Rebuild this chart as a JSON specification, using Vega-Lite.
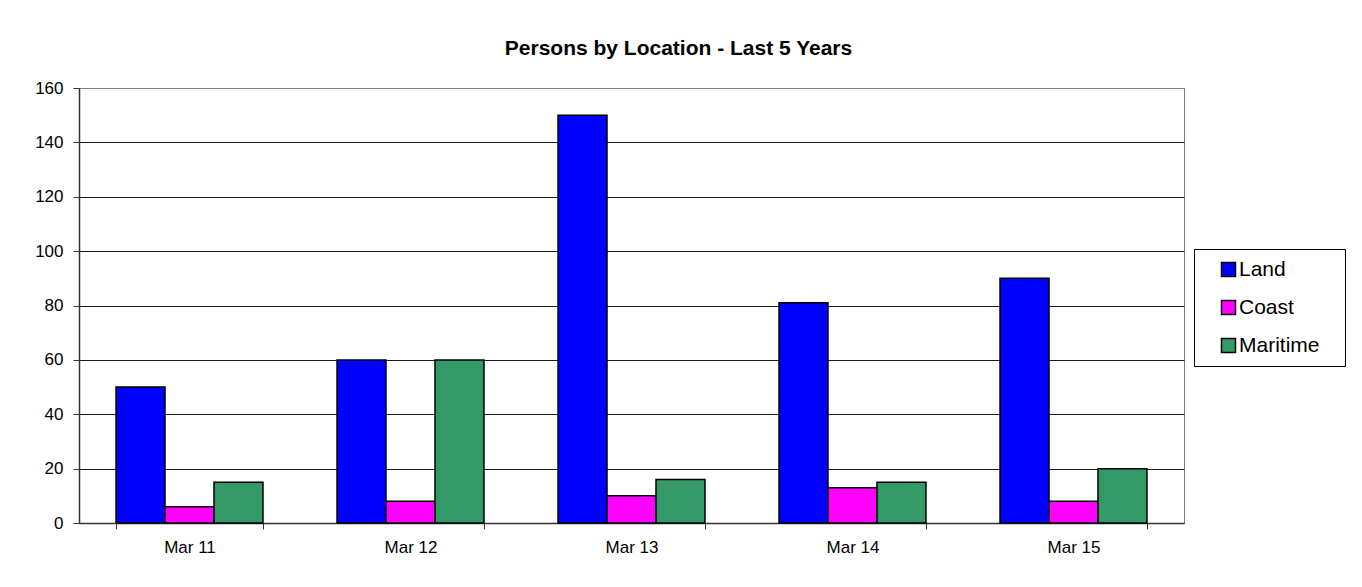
{
  "$schema": "https://vega.github.io/schema/vega-lite/v6.json",
  "width": 1105,
  "height": 435,
  "autosize": {"type": "none"},
  "padding": {"left": 79, "top": 88, "right": 178, "bottom": 64},
  "background": "#ffffff",
  "title": {
    "text": "Persons by Location - Last 5 Years",
    "font": "Liberation Sans",
    "fontSize": 21,
    "fontWeight": "bold",
    "color": "#000000",
    "anchor": "middle",
    "dx": 47,
    "offset": 20
  },
  "data": {
    "values": [
      {"month": "Mar 11", "location": "Land", "persons": 50},
      {"month": "Mar 11", "location": "Coast", "persons": 6},
      {"month": "Mar 11", "location": "Maritime", "persons": 15},
      {"month": "Mar 12", "location": "Land", "persons": 60},
      {"month": "Mar 12", "location": "Coast", "persons": 8},
      {"month": "Mar 12", "location": "Maritime", "persons": 60},
      {"month": "Mar 13", "location": "Land", "persons": 150},
      {"month": "Mar 13", "location": "Coast", "persons": 10},
      {"month": "Mar 13", "location": "Maritime", "persons": 16},
      {"month": "Mar 14", "location": "Land", "persons": 81},
      {"month": "Mar 14", "location": "Coast", "persons": 13},
      {"month": "Mar 14", "location": "Maritime", "persons": 15},
      {"month": "Mar 15", "location": "Land", "persons": 90},
      {"month": "Mar 15", "location": "Coast", "persons": 8},
      {"month": "Mar 15", "location": "Maritime", "persons": 20}
    ]
  },
  "mark": {"type": "bar", "stroke": "#000000", "strokeWidth": 1.5},
  "encoding": {
    "x": {
      "field": "month",
      "type": "nominal",
      "scale": {"paddingInner": 0.335, "paddingOuter": 0.1675},
      "axis": {
        "title": null,
        "labelAngle": 0,
        "tickBand": "extent",
        "grid": false,
        "labelFont": "Liberation Sans",
        "labelFontSize": 17,
        "labelColor": "#000000",
        "labelPadding": 10,
        "tickSize": 6,
        "tickColor": "#333333",
        "domainColor": "#333333",
        "domainWidth": 1.5
      }
    },
    "xOffset": {
      "field": "location",
      "type": "nominal",
      "sort": ["Land", "Coast", "Maritime"],
      "scale": {"paddingInner": 0, "paddingOuter": 0}
    },
    "y": {
      "field": "persons",
      "type": "quantitative",
      "scale": {"domain": [0, 160], "nice": false},
      "axis": {
        "title": null,
        "values": [0, 20, 40, 60, 80, 100, 120, 140, 160],
        "grid": true,
        "gridColor": {"condition": {"test": "datum.value === 160", "value": "#808080"}, "value": "#1a1a1a"},
        "gridWidth": 1,
        "labelFont": "Liberation Sans",
        "labelFontSize": 17,
        "labelColor": "#000000",
        "labelPadding": 10,
        "tickSize": 6,
        "tickColor": "#333333",
        "domainColor": "#333333",
        "domainWidth": 1.5
      }
    },
    "color": {
      "field": "location",
      "type": "nominal",
      "sort": ["Land", "Coast", "Maritime"],
      "scale": {"domain": ["Land", "Coast", "Maritime"], "range": ["#0000FF", "#FF00FF", "#339966"]},
      "legend": {
        "title": "\u00a0",
        "titleOrient": "right",
        "titleFontSize": 1,
        "titlePadding": 15,
        "orient": "none",
        "legendX": 1115,
        "legendY": 161,
        "strokeColor": "#000000",
        "fillColor": "#ffffff",
        "padding": 10,
        "symbolType": "square",
        "symbolSize": 196,
        "symbolStrokeColor": "#000000",
        "symbolStrokeWidth": 1.5,
        "symbolOpacity": 1,
        "symbolOffset": 14,
        "labelOffset": 0,
        "labelFont": "Liberation Sans",
        "labelFontSize": 21,
        "labelColor": "#000000",
        "rowPadding": 16
      }
    }
  },
  "config": {
    "view": {"stroke": "#808080", "strokeWidth": 1}
  }
}
